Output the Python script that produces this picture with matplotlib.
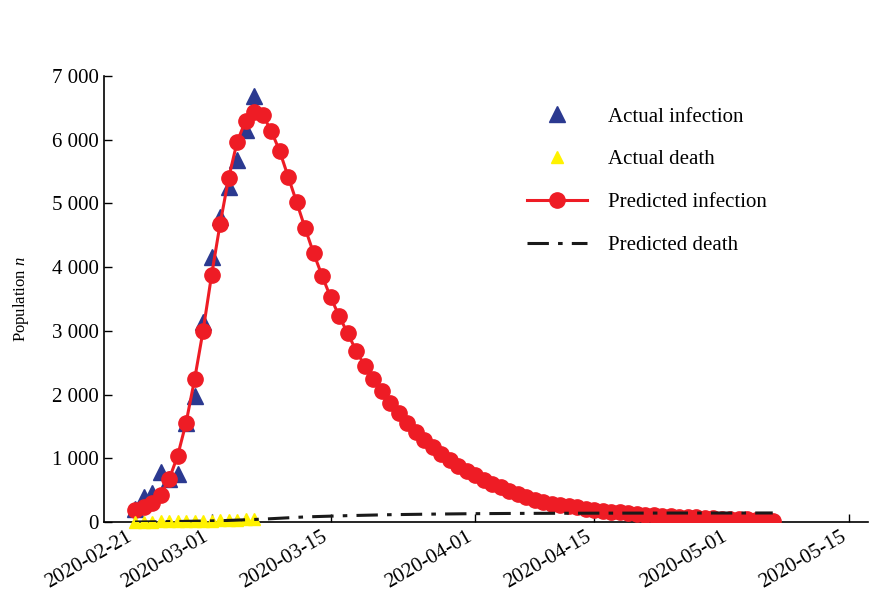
import numpy as np
import matplotlib
matplotlib.use("Agg")
import matplotlib.pyplot as plt
import matplotlib.dates as mdates
from matplotlib.ticker import FixedLocator

plt.rcParams["font.family"] = ["Liberation Serif", "DejaVu Serif"]
plt.rcParams["mathtext.fontset"] = "custom"
plt.rcParams["mathtext.rm"] = "Liberation Serif"
plt.rcParams["mathtext.it"] = "Liberation Serif:italic"

start = np.datetime64("2020-02-21")

# actual data, one value per day from 2020-02-21
actual_infection = [200, 400, 450, 790, 680, 760, 1550, 1970, 3140, 4160,
                    4790, 5260, 5680, 6150, 6680]
actual_death = [2, 2, 6, 8, 11, 12, 13, 16, 17, 17, 28, 32, 35, 42, 44]

# model output, one value per day from 2020-02-21
pred_infection = [188, 240, 303, 424, 670, 1036, 1559, 2240, 3003, 3877,
                  4678, 5396, 5965, 6300, 6441, 6390, 6143, 5824, 5421,
                  5020, 4610, 4218, 3862, 3527, 3234, 2962, 2690, 2454, 2240,
                  2057, 1873, 1716, 1559, 1418, 1287, 1173, 1068, 973, 879,
                  805, 738, 659, 597, 545, 491, 440, 388, 345, 309,
                  290, 268, 248, 228, 210, 193, 178, 164, 151, 139,
                  127, 117, 108, 99, 91, 84, 77, 71, 65, 60,
                  55, 50, 45, 40, 34, 28, 22]

# predicted death read every 5 days
death_days = [0, 5, 10, 15, 20, 25, 30, 35, 40, 45, 50, 55, 60, 65, 70, 75]
pred_death = [0, 8, 20, 45, 80, 100, 115, 124, 131, 135, 137, 139, 140, 141, 141, 142]

tick_dates = ["2020-02-21", "2020-03-01", "2020-03-15", "2020-04-01",
              "2020-04-15", "2020-05-01", "2020-05-15"]

t_act = start + np.arange(len(actual_infection))
t_pred = start + np.arange(len(pred_infection))
t_death = start + np.array(death_days)

fig = plt.figure(figsize=(8.75, 5.94), dpi=100)
ax = fig.add_axes([0.1189, 0.1212, 0.8731, 0.7508])

ax.plot(t_act, actual_infection, linestyle="none", marker="^", markersize=11,
        color="#2b3990", label="Actual infection", zorder=2)
ax.plot(t_act, actual_death, linestyle="none", marker="^", markersize=9,
        color="#fff200", label="Actual death", zorder=4, clip_on=False)
ax.plot(t_pred, pred_infection, color="#ee1c25", linewidth=2.2, marker="o",
        markersize=11, label="Predicted infection", zorder=3)
ax.plot(t_death, pred_death, color="#1a1a1a", linewidth=2.2,
        dashes=(7, 3, 1.5, 3), label="Predicted death", zorder=5)

ax.set_xlim(start - np.timedelta64(5256, "m"), start + np.timedelta64(124128, "m"))
ax.set_ylim(0, 7000)

ax.xaxis.set_major_locator(FixedLocator(
    [mdates.date2num(np.datetime64(d)) for d in tick_dates]))
ax.xaxis.set_major_formatter(mdates.DateFormatter("%Y-%m-%d"))
ax.set_yticks(np.arange(0, 7001, 1000))
ax.set_yticklabels(["0" if v == 0 else f"{v // 1000} {v % 1000:03d}"
                    for v in range(0, 7001, 1000)])

for lab in ax.get_xticklabels():
    lab.set_rotation(30)
    lab.set_ha("right")

ax.tick_params(direction="in", length=6, width=1, labelsize=15, pad=4)
ax.spines["top"].set_visible(False)
ax.spines["right"].set_visible(False)
for s in ("left", "bottom"):
    ax.spines[s].set_linewidth(1.2)

ax.set_ylabel("Population $n$", fontsize=12, labelpad=15)

ax.legend(loc="upper left", bbox_to_anchor=(0.602, 0.82),
          bbox_transform=fig.transFigure, frameon=False, fontsize=15,
          handlelength=2.9, handletextpad=1.0, labelspacing=1.12,
          borderpad=0, borderaxespad=0)

fig.savefig("out.png", dpi=100)
